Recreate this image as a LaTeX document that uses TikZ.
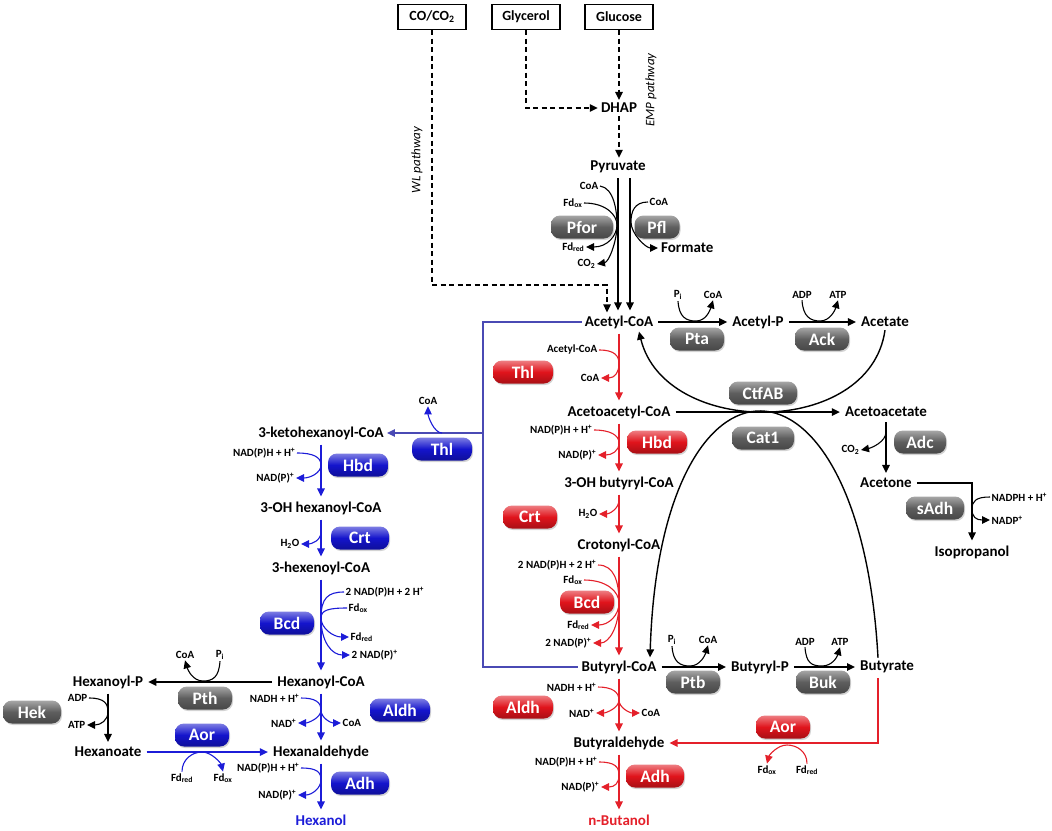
\documentclass[tikz,border=0pt]{standalone}
\usepackage{fontspec}
\setmainfont{Carlito}
\usepackage{tikz}
\usetikzlibrary{arrows.meta, shadows}

\definecolor{pillred}{HTML}{E0141C}
\definecolor{pillblue}{HTML}{1414CC}
\definecolor{pillgray}{HTML}{5E5E5E}
\definecolor{linered}{HTML}{E4202A}
\definecolor{lineblue}{HTML}{1C1CD8}
\definecolor{linkblue}{HTML}{4A4AB4}

\begin{document}
\begin{tikzpicture}[x=1pt, y=-1pt,
                >={Triangle[length=8pt,width=7.5pt]},
                met/.style={font=\fontsize{15}{17}\selectfont\bfseries, inner sep=3pt}, % metabolites
                cof/.style={font=\fontsize{11}{12}\selectfont\bfseries, inner sep=1.5pt}, % cofactors
                srcbox/.style={draw, line width=1.1pt, minimum width=68pt, minimum height=25pt, font=\fontsize{14}{16}\selectfont\bfseries},
                pill/.style={rectangle, rounded corners=9pt, minimum height=23pt, minimum width=54pt, inner sep=0pt,
                             text=white, font=\fontsize{17.5}{18}\selectfont\bfseries,
                             top color=#1!55!white, bottom color=#1!75!black, middle color=#1,
                             drop shadow={shadow xshift=1pt, shadow yshift=-1.5pt, opacity=0.35}}, % enzymes
                pill/.default=pillgray,
                rxn/.style={->, line width=1.4pt, shorten <=2pt, shorten >=2pt},
                cv/.style={line width=1.1pt},
                dsh/.style={->, line width=1.3pt, dash pattern=on 5pt off 3.5pt},
                link/.style={linkblue, line width=1.3pt}
                ]
\useasboundingbox (0,0) rectangle (1052,830);

% substrates
\node[srcbox] (co) at (432,17) {CO/CO\textsubscript{2}};
\node[srcbox] (gly) at (526,17) {Glycerol};
\node[srcbox] (glc) at (619,17) {Glucose};
\node[met] (dhap) at (619,108) {DHAP};
\node[met] (pyr) at (618,167) {Pyruvate};
\node[font=\fontsize{13}{14}\selectfont\itshape, rotate=90] (emp) at (651,90) {EMP pathway};
\node[font=\fontsize{13}{14}\selectfont\itshape, rotate=90] (wl) at (417,160) {WL pathway};

% main metabolites
\node[met] (acoa) at (619,322) {Acetyl-CoA};
\node[met] (acp) at (758,322) {Acetyl-P};
\node[met] (ace) at (885,322) {Acetate};
\node[met] (aacoa) at (619,412) {Acetoacetyl-CoA};
\node[met] (aac) at (886,412) {Acetoacetate};
\node[met] (acn) at (886,483) {Acetone};
\node[met] (ipa) at (972,552) {Isopropanol};
\node[met] (ohb) at (619,483) {3-OH butyryl-CoA};
\node[met] (crc) at (619,545) {Crotonyl-CoA};
\node[met] (bcoa) at (619,667) {Butyryl-CoA};
\node[met] (bp) at (760,667) {Butyryl-P};
\node[met] (but) at (887,667) {Butyrate};
\node[met] (bald) at (619,743) {Butyraldehyde};
\node[met, text=linered] (buoh) at (619,820) {n-Butanol};
\node[met] (khc) at (321,433) {3-ketohexanoyl-CoA};
\node[met] (ohh) at (321,508) {3-OH hexanoyl-CoA};
\node[met] (hxe) at (321,568) {3-hexenoyl-CoA};
\node[met] (hcoa) at (321,682) {Hexanoyl-CoA};
\node[met] (hp) at (108,682) {Hexanoyl-P};
\node[met] (hxa) at (108,752) {Hexanoate};
\node[met] (hald) at (321,752) {Hexanaldehyde};
\node[met, text=lineblue] (hxol) at (321,820) {Hexanol};

% enzymes
\node[pill, minimum width=62pt] (pfor) at (582,227) {Pfor};
\node[pill, minimum width=45pt] (pfl) at (657,227) {Pfl};
\node[pill] (pta) at (697,339) {Pta};
\node[pill] (ack) at (822,339) {Ack};
\node[pill, minimum width=68pt] (ctf) at (763,393) {CtfAB};
\node[pill, minimum width=62pt] (cat) at (763,438) {Cat1};
\node[pill, minimum width=52pt] (adc) at (920,442) {Adc};
\node[pill, minimum width=58pt] (sadh) at (935,508) {sAdh};
\node[pill] (ptb) at (693,682) {Ptb};
\node[pill] (buk) at (823,682) {Buk};
\node[pill=pillred, minimum width=60pt] (rthl) at (523,372) {Thl};
\node[pill=pillred, minimum width=60pt] (rhbd) at (657,442) {Hbd};
\node[pill=pillred] (rcrt) at (530,517) {Crt};
\node[pill=pillred] (rbcd) at (587,602) {Bcd};
\node[pill=pillred, minimum width=60pt] (raldh) at (523,707) {Aldh};
\node[pill=pillred, minimum width=58pt] (radh) at (655,776) {Adh};
\node[pill=pillred] (raor) at (783,727) {Aor};
\node[pill=pillblue, minimum width=60pt] (bthl) at (442,449) {Thl};
\node[pill=pillblue, minimum width=60pt] (bhbd) at (358,465) {Hbd};
\node[pill=pillblue, minimum width=58pt] (bcrt) at (360,538) {Crt};
\node[pill=pillblue] (bbcd) at (287,623) {Bcd};
\node[pill=pillblue, minimum width=60pt] (baldh) at (400,710) {Aldh};
\node[pill=pillblue, minimum width=58pt] (badh) at (360,783) {Adh};
\node[pill=pillblue] (baor) at (202,735) {Aor};
\node[pill] (pth) at (205,698) {Pth};
\node[pill, minimum width=58pt] (hek) at (32,712) {Hek};

% cofactors
\node[cof, anchor=east] (pfcoa) at (600,186) {CoA};
\node[cof, anchor=east] (pffdox) at (584,203) {Fd\textsubscript{ox}};
\node[cof, anchor=east] (pffdred) at (586,247) {Fd\textsubscript{red}};
\node[cof, anchor=east] (pfco2) at (597,264) {CO\textsubscript{2}};
\node[cof, anchor=west] (plcoa) at (648,202) {CoA};
\node[met, anchor=west] (form) at (658,248) {Formate};
\node[cof] (ptapi) at (678,295) {P\textsubscript{i}};
\node[cof] (ptacoa) at (713,295) {CoA};
\node[cof] (ackadp) at (802,295) {ADP};
\node[cof] (ackatp) at (838,295) {ATP};
\node[cof, anchor=east] (rthacoa) at (599,350) {Acetyl-CoA};
\node[cof, anchor=east] (rthcoa) at (601,378) {CoA};
\node[cof, anchor=east] (rhbnadh) at (594,430) {NAD(P)H + H\textsuperscript{+}};
\node[cof, anchor=east] (rhbnad) at (598,455) {NAD(P)\textsuperscript{+}};
\node[cof, anchor=east] (rcrh2o) at (599,514) {H\textsubscript{2}O};
\node[cof, anchor=east] (rbcnadh) at (598,565) {2 NAD(P)H + 2 H\textsuperscript{+}};
\node[cof, anchor=east] (rbcfdox) at (584,580) {Fd\textsubscript{ox}};
\node[cof, anchor=east] (rbcfdred) at (591,625) {Fd\textsubscript{red}};
\node[cof, anchor=east] (rbcnad) at (593,643) {2 NAD(P)\textsuperscript{+}};
\node[cof, anchor=east] (ralnadh) at (598,687) {NADH + H\textsuperscript{+}};
\node[cof, anchor=east] (ralnad) at (596,713) {NAD\textsuperscript{+}};
\node[cof, anchor=west] (ralcoa) at (640,713) {CoA};
\node[cof, anchor=east] (radnadh) at (599,762) {NAD(P)H + H\textsuperscript{+}};
\node[cof, anchor=east] (radnad) at (601,787) {NAD(P)\textsuperscript{+}};
\node[cof, anchor=east] (adcco2) at (861,450) {CO\textsubscript{2}};
\node[cof, anchor=west] (sanadph) at (990,497) {NADPH + H\textsuperscript{+}};
\node[cof, anchor=west] (sanadp) at (990,520) {NADP\textsuperscript{+}};
\node[cof] (ptbpi) at (672,640) {P\textsubscript{i}};
\node[cof] (ptbcoa) at (708,640) {CoA};
\node[cof] (bukadp) at (805,642) {ADP};
\node[cof] (bukatp) at (840,642) {ATP};
\node[cof] (raofdox) at (767,770) {Fd\textsubscript{ox}};
\node[cof] (raofdred) at (807,770) {Fd\textsubscript{red}};
\node[cof] (bthcoa) at (428,401) {CoA};
\node[cof, anchor=east] (bhbnadh) at (297,453) {NAD(P)H + H\textsuperscript{+}};
\node[cof, anchor=east] (bhbnad) at (296,478) {NAD(P)\textsuperscript{+}};
\node[cof, anchor=east] (bcrh2o) at (301,544) {H\textsubscript{2}O};
\node[cof, anchor=west] (bbcnadh) at (344,592) {2 NAD(P)H + 2 H\textsuperscript{+}};
\node[cof, anchor=west] (bbcfdox) at (347,608) {Fd\textsubscript{ox}};
\node[cof, anchor=west] (bbcfdred) at (349,637) {Fd\textsubscript{red}};
\node[cof, anchor=west] (bbcnad) at (350,655) {2 NAD(P)\textsuperscript{+}};
\node[cof] (pthcoa) at (185,655) {CoA};
\node[cof] (pthpi) at (220,655) {P\textsubscript{i}};
\node[cof, anchor=east] (hekadp) at (89,698) {ADP};
\node[cof, anchor=east] (hekatp) at (87,725) {ATP};
\node[cof] (baofdred) at (182,778) {Fd\textsubscript{red}};
\node[cof] (baofdox) at (223,778) {Fd\textsubscript{ox}};
\node[cof, anchor=east] (balnadh) at (301,698) {NADH + H\textsuperscript{+}};
\node[cof, anchor=east] (balnad) at (298,723) {NAD\textsuperscript{+}};
\node[cof, anchor=west] (balcoa) at (341,723) {CoA};
\node[cof, anchor=east] (badnadh) at (301,768) {NAD(P)H + H\textsuperscript{+}};
\node[cof, anchor=east] (badnad) at (298,795) {NAD(P)\textsuperscript{+}};

% touch points of the side reactions
\coordinate (wlc) at (607,285);
\coordinate (pfT) at (617,225);
\coordinate (plT) at (631,222);
\coordinate (ptaT) at (696,321);
\coordinate (ackT) at (820,321);
\coordinate (rthT) at (619,364);
\coordinate (rhbT) at (619,443);
\coordinate (rcrT) at (619,500);
\coordinate (rbcT) at (619,603);
\coordinate (ralT) at (619,700);
\coordinate (radT) at (619,775);
\coordinate (adcT) at (886,432);
\coordinate (saT) at (972,509);
\coordinate (ptbT) at (690,666);
\coordinate (bukT) at (822,666);
\coordinate (raoT) at (787,745);
\coordinate (bthT) at (442,433);
\coordinate (bhbT) at (321,465);
\coordinate (bcrT) at (321,532);
\coordinate (bbcT) at (321,618);
\coordinate (pthT) at (203,681);
\coordinate (hekT) at (108,712);
\coordinate (baoT) at (202,752);
\coordinate (balT) at (321,710);
\coordinate (badT) at (321,780);
\coordinate (lka) at (483,322);
\coordinate (lkb) at (483,433);
\coordinate (lkc) at (483,667);

% feed pathways
\draw[dsh] (co.south) |- (wlc) -- (wlc |- acoa.north);
\draw[dsh] (gly.south) |- (dhap.west);
\draw[dsh] (glc.south) -- (glc.south |- dhap.north);
\draw[dsh] (dhap.south) -- (dhap.south |- pyr.north);
\draw[rxn] (pyr.south) -- (pyr.south |- acoa.north);
\draw[rxn] ([xshift=12pt]pyr.south) -- ([xshift=12pt]pyr.south |- acoa.north);
\draw[cv] (pfcoa.east) .. controls +(14,2) and +(0,-14) .. (pfT);
\draw[cv] (pffdox.east) .. controls +(22,0) and +(0,-10) .. (pfT);
\draw[cv, ->] (pfT) .. controls +(0,10) and +(22,0) .. (pffdred.east);
\draw[cv, ->] (pfT) .. controls +(0,16) and +(12,-2) .. (pfco2.east);
\draw[cv, ->] (plcoa.west) .. controls +(-14,0) and +(0,-10) .. (plT) .. controls +(0,12) and +(-12,0) .. (form.west);

% acetate, acetone
\draw[rxn] (acoa) -- (acp);
\draw[rxn] (acp) -- (ace);
\draw[cv, ->] (ptapi.south) .. controls +(1,16) and +(-10,0) .. (ptaT) .. controls +(10,0) and +(-3,10) .. (ptacoa.south);
\draw[cv, ->] (ackadp.south) .. controls +(1,16) and +(-10,0) .. (ackT) .. controls +(10,0) and +(-3,10) .. (ackatp.south);
\draw[rxn] (aacoa) -- (aac);
\draw[line width=1.4pt, ->] (ace.south) .. controls (870,438) and (665,438) .. ([xshift=20pt]acoa.south);
\draw[line width=1.4pt, ->] ([xshift=-9pt]but.north) .. controls (860,330) and (660,330) .. ([xshift=31pt]bcoa.north);
\draw[rxn] (aac) -- (acn);
\draw[cv, ->] (adcT) .. controls +(0,10) and +(10,-2) .. (adcco2.east);
\draw[rxn] (acn.east) -| (ipa.north);
\draw[cv, ->] (sanadph.west) .. controls +(-14,0) and +(0,-8) .. (saT) .. controls +(0,8) and +(-14,0) .. (sanadp.west);

% butanol branch
\draw[rxn, linered] (acoa) -- (aacoa);
\draw[cv, linered, ->] (rthacoa.east) .. controls +(16,0) and +(0,-8) .. (rthT) .. controls +(0,8) and +(14,0) .. (rthcoa.east);
\draw[rxn, linered] (aacoa) -- (ohb);
\draw[cv, linered, ->] (rhbnadh.east) .. controls +(16,0) and +(0,-8) .. (rhbT) .. controls +(0,8) and +(14,0) .. (rhbnad.east);
\draw[rxn, linered] (ohb) -- (crc);
\draw[cv, linered, ->] (rcrT) .. controls +(0,9) and +(10,0) .. (rcrh2o.east);
\draw[rxn, linered] (crc) -- (bcoa);
\draw[cv, linered] (rbcnadh.east) .. controls +(16,0) and +(0,-22) .. (rbcT);
\draw[cv, linered] (rbcfdox.east) .. controls +(22,0) and +(0,-12) .. (rbcT);
\draw[cv, linered, ->] (rbcT) .. controls +(0,12) and +(18,0) .. (rbcfdred.east);
\draw[cv, linered, ->] (rbcT) .. controls +(0,24) and +(16,0) .. (rbcnad.east);
\draw[rxn, linered] (bcoa) -- (bald);
\draw[cv, linered, ->] (ralnadh.east) .. controls +(14,0) and +(0,-8) .. (ralT) .. controls +(0,8) and +(10,0) .. (ralnad.east);
\draw[cv, linered, ->] (ralT) .. controls +(0,8) and +(-10,0) .. (ralcoa.west);
\draw[rxn, linered] (bald) -- (buoh);
\draw[cv, linered, ->] (radnadh.east) .. controls +(16,0) and +(0,-8) .. (radT) .. controls +(0,8) and +(14,0) .. (radnad.east);
\draw[rxn] (bcoa) -- (bp);
\draw[rxn] (bp) -- (but);
\draw[cv, ->] (ptbpi.south) .. controls +(1,16) and +(-10,0) .. (ptbT) .. controls +(10,0) and +(-3,10) .. (ptbcoa.south);
\draw[cv, ->] (bukadp.south) .. controls +(1,16) and +(-10,0) .. (bukT) .. controls +(10,0) and +(-3,10) .. (bukatp.south);
\draw[rxn, linered] ([xshift=-9pt]but.south) |- (bald.east);
\draw[cv, linered, ->] (raofdred.north) .. controls +(0,-12) and +(10,0) .. (raoT) .. controls +(-10,0) and +(2,-8) .. (raofdox.north);

% hexanol branch
\draw[link] (acoa.west) -- (lka) -- (lkc) -- (bcoa.west);
\draw[link, ->] (lkb) -- (khc.east);
\draw[cv, lineblue, ->] (bthT) .. controls +(-8,0) and +(0,10) .. (bthcoa.south);
\draw[rxn, lineblue] (khc) -- (ohh);
\draw[cv, lineblue, ->] (bhbnadh.east) .. controls +(16,0) and +(0,-8) .. (bhbT) .. controls +(0,8) and +(14,0) .. (bhbnad.east);
\draw[rxn, lineblue] (ohh) -- (hxe);
\draw[cv, lineblue, ->] (bcrT) .. controls +(0,9) and +(10,0) .. (bcrh2o.east);
\draw[rxn, lineblue] (hxe) -- (hcoa);
\draw[cv, lineblue] (bbcnadh.west) .. controls +(-16,0) and +(0,-20) .. (bbcT);
\draw[cv, lineblue] (bbcfdox.west) .. controls +(-18,0) and +(0,-8) .. (bbcT);
\draw[cv, lineblue, ->] (bbcT) .. controls +(0,10) and +(-16,0) .. (bbcfdred.west);
\draw[cv, lineblue, ->] (bbcT) .. controls +(0,24) and +(-18,0) .. (bbcnad.west);
\draw[rxn] (hcoa) -- (hp);
\draw[cv, ->] (pthpi.south) .. controls +(-1,16) and +(10,0) .. (pthT) .. controls +(-10,0) and +(3,10) .. (pthcoa.south);
\draw[rxn] (hp) -- (hxa);
\draw[cv, ->] (hekadp.east) .. controls +(16,0) and +(0,-8) .. (hekT) .. controls +(0,8) and +(14,0) .. (hekatp.east);
\draw[rxn, lineblue] (hxa) -- (hald);
\draw[cv, lineblue, ->] (baofdred.north) .. controls +(0,-12) and +(-10,0) .. (baoT) .. controls +(10,0) and +(-2,-8) .. (baofdox.north);
\draw[rxn, lineblue] (hcoa) -- (hald);
\draw[cv, lineblue, ->] (balnadh.east) .. controls +(14,0) and +(0,-8) .. (balT) .. controls +(0,8) and +(10,0) .. (balnad.east);
\draw[cv, lineblue, ->] (balT) .. controls +(0,8) and +(-10,0) .. (balcoa.west);
\draw[rxn, lineblue] (hald) -- (hxol);
\draw[cv, lineblue, ->] (badnadh.east) .. controls +(16,0) and +(0,-8) .. (badT) .. controls +(0,8) and +(14,0) .. (badnad.east);
\end{tikzpicture}
\end{document}
